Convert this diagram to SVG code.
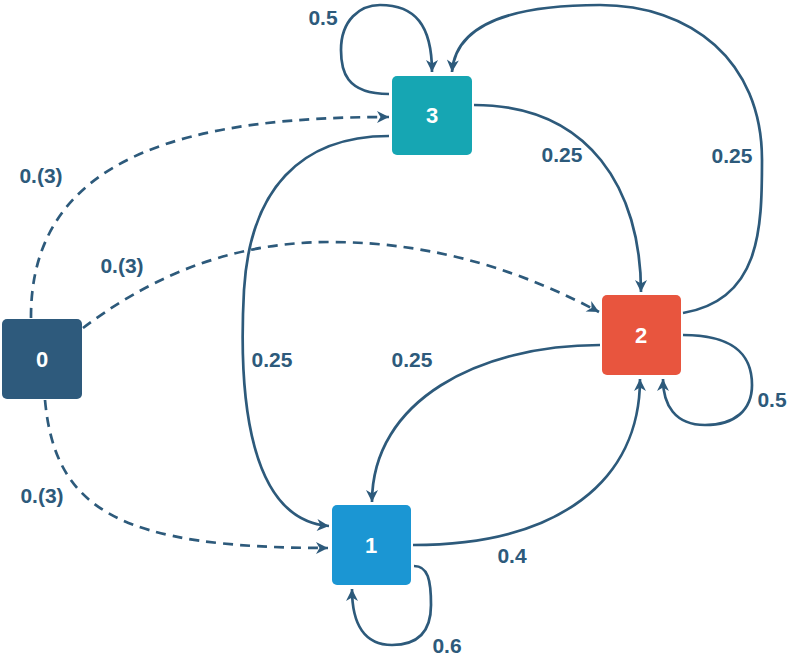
<svg xmlns="http://www.w3.org/2000/svg" width="789" height="660" viewBox="0 0 789 660">
  <style>
    .node-label { font-family: "Liberation Sans", Arial, sans-serif; font-weight: bold; font-size: 22px; fill: #ffffff; text-anchor: middle; }
    .edge-label { font-family: "Liberation Sans", Arial, sans-serif; font-weight: bold; font-size: 21px; fill: #2d5a7b; text-anchor: middle; }
    .edge { fill: none; stroke: #2d5a7b; stroke-width: 2.7; marker-end: url(#arrow); }
    .dashed { stroke-dasharray: 10 7; }
  </style>
  <defs>
    <marker id="arrow" markerUnits="userSpaceOnUse" markerWidth="14" markerHeight="14" refX="13" refY="7" orient="auto">
      <path d="M1,1 L13,7 L1,13 L4.5,7 Z" fill="#2d5a7b"/>
    </marker>
  </defs>

  <rect width="789" height="660" fill="#ffffff"/>

  <!-- connectors -->
  <g id="edges">
    <!-- 0 -> 3 -->
    <path class="edge dashed" d="M31,318 C30,150 200,117 389,117"/>
    <!-- 0 -> 2 -->
    <path class="edge dashed" d="M83,328 C140,285 220,242 330,242 C440,242 530,275 599,312"/>
    <!-- 0 -> 1 -->
    <path class="edge dashed" d="M45,400 C55,510 120,548 328,548"/>
    <!-- 3 -> 3 -->
    <path class="edge" d="M389,94 C345,94 341,70 341,50 C341,20 360,5 380,5 C415,5 432,25 432,72"/>
    <!-- 2 -> 3 -->
    <path class="edge" d="M683,313 C760,300 762,230 762,160 C762,60 690,5 600,5 C500,5 455,30 452,72"/>
    <!-- 3 -> 2 -->
    <path class="edge" d="M474,105 C590,105 641,190 641,292"/>
    <!-- 3 -> 1 -->
    <path class="edge" d="M389,136 C300,136 250,190 244,290 C238,400 250,520 329,526"/>
    <!-- 2 -> 1 -->
    <path class="edge" d="M600,345 C480,345 372,400 372,502"/>
    <!-- 1 -> 2 -->
    <path class="edge" d="M413,545 C560,545 640,480 640,379"/>
    <!-- 2 -> 2 -->
    <path class="edge" d="M683,335 C740,335 752,360 752,385 C752,410 735,425 705,425 C675,425 663,405 663,379"/>
    <!-- 1 -> 1 -->
    <path class="edge" d="M414,566 C428,566 431,580 431,605 C431,635 415,645 392,645 C365,645 352,625 352,589"/>
  </g>

  <!-- edge labels -->
  <g id="edge-labels">
    <text class="edge-label" x="323" y="25">0.5</text>
    <text class="edge-label" x="41" y="183">0.(3)</text>
    <text class="edge-label" x="122" y="273">0.(3)</text>
    <text class="edge-label" x="42" y="503">0.(3)</text>
    <text class="edge-label" x="562" y="162">0.25</text>
    <text class="edge-label" x="732" y="163">0.25</text>
    <text class="edge-label" x="272" y="367">0.25</text>
    <text class="edge-label" x="412" y="367">0.25</text>
    <text class="edge-label" x="772" y="407">0.5</text>
    <text class="edge-label" x="512" y="563">0.4</text>
    <text class="edge-label" x="447" y="653">0.6</text>
  </g>

  <!-- nodes -->
  <g id="node-0">
    <rect x="2" y="319" width="80" height="80" rx="5" fill="#2e5a7c"/>
    <text class="node-label" x="42" y="367">0</text>
  </g>
  <g id="node-3">
    <rect x="392" y="76" width="80" height="79" rx="5" fill="#16a6b3"/>
    <text class="node-label" x="432" y="123">3</text>
  </g>
  <g id="node-2">
    <rect x="602" y="295" width="79" height="80" rx="5" fill="#e8553e"/>
    <text class="node-label" x="641" y="343">2</text>
  </g>
  <g id="node-1">
    <rect x="332" y="505" width="79" height="80" rx="5" fill="#1b96d3"/>
    <text class="node-label" x="371" y="553">1</text>
  </g>
</svg>
